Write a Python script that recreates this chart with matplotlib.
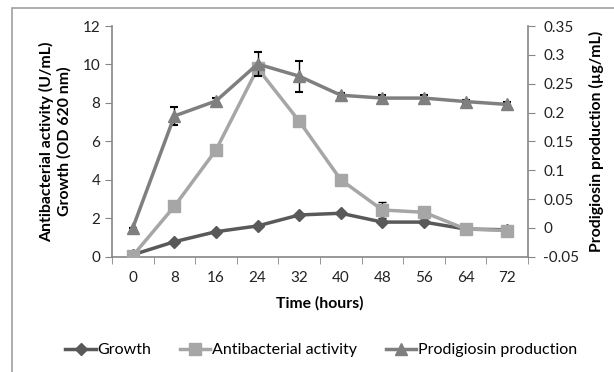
import matplotlib.pyplot as plt
from matplotlib.patches import Rectangle

# time points (categorical axis)
horas = ['0', '8', '16', '24', '32', '40', '48', '56', '64', '72']
crecimiento = [0.1, 0.78, 1.3, 1.6, 2.17, 2.26, 1.8, 1.8, 1.44, 1.4]
antibacteriana = [0.05, 2.62, 5.55, 9.8, 7.05, 4.0, 2.43, 2.31, 1.44, 1.36]
antibacteriana_err = [0, 0, 0, 0, 0, 0, 0.4, 0, 0, 0]
prodigiosina = [0.0, 0.194, 0.22, 0.284, 0.263, 0.23, 0.225, 0.225, 0.219, 0.214]
prodigiosina_err = [0, 0.015, 0.005, 0.021, 0.027, 0.003, 0.006, 0.006, 0.002, 0.004]
ticks_der = [-0.05, 0, 0.05, 0.1, 0.15, 0.2, 0.25, 0.3, 0.35]
labels_der = ['-0.05', '0', '0.05', '0.1', '0.15', '0.2', '0.25', '0.3', '0.35']

plt.rcParams['font.family'] = ['Lato', 'DejaVu Sans']

c_crec = '#595959'
c_anti = '#a6a6a6'
c_prod = '#7f7f7f'
c_eje = '#868686'

fig = plt.figure(figsize=(6.14, 3.72), dpi=100)
ax = fig.add_axes([112/614, 1 - 256.7/372, 416/614, 230.7/372])
x = list(range(len(horas)))

l1, = ax.plot(x, crecimiento, color=c_crec, lw=2.5, marker='D', ms=6, zorder=3)
l2, = ax.plot(x, antibacteriana, color=c_anti, lw=2.5, marker='s', ms=8.5, zorder=4)
ax.errorbar(x[6:7], antibacteriana[6:7], yerr=antibacteriana_err[6:7], fmt='none',
            ecolor='black', elinewidth=1, capsize=3, zorder=2)

ax.set_xlim(-0.5, len(horas) - 0.5)
ax.set_ylim(0, 12)
ax.set_yticks(range(0, 13, 2))
ax.set_xticks(x)
ax.set_xticklabels(horas)
ax.set_xticks([i - 0.5 for i in range(len(horas) + 1)], minor=True)
ax.tick_params(axis='x', which='major', length=0, pad=10, labelsize=11, colors='#222222')
ax.tick_params(axis='x', which='minor', length=5, color=c_eje)
ax.tick_params(axis='y', length=5, color=c_eje, labelsize=11, labelcolor='#222222')
for s in ['top', 'right']:
    ax.spines[s].set_visible(False)
for s in ['left', 'bottom']:
    ax.spines[s].set_color(c_eje)
    ax.spines[s].set_linewidth(1.2)
ax.set_xlabel('Time (hours)', fontweight='bold', fontsize=11.3, labelpad=8)
ax.set_ylabel('Antibacterial activity (U/mL)\nGrowth (OD 620 nm)', fontweight='bold',
              fontsize=11.4, linespacing=1.25, va='center')
ax.yaxis.set_label_coords((55 - 112) / 416, 0.5)

ax2 = ax.twinx()
ax2.errorbar(x, prodigiosina, yerr=prodigiosina_err, fmt='none', ecolor='black',
             elinewidth=1, capsize=3, capthick=1.5, zorder=2)
l3, = ax2.plot(x, prodigiosina, color=c_prod, lw=2.5, marker='^', ms=9, zorder=3)
ax2.set_ylim(-0.05, 0.35)
ax2.set_yticks(ticks_der)
ax2.set_yticklabels(labels_der)
ax2.tick_params(axis='y', length=5, color=c_eje, labelsize=11, labelcolor='#222222', pad=6)
for s in ['top', 'left', 'bottom']:
    ax2.spines[s].set_visible(False)
ax2.spines['right'].set_color(c_eje)
ax2.spines['right'].set_linewidth(1.2)
ax2.set_ylabel('Prodigiosin production (µg/mL)', fontweight='bold', fontsize=11.4, labelpad=7)

fig.legend([l1, l2, l3], ['Growth', 'Antibacterial activity', 'Prodigiosin production'],
           loc='center', bbox_to_anchor=(0.523, 1 - 350/372), ncol=3, frameon=False,
           fontsize=11.5, handlelength=1.9, columnspacing=1.8, handletextpad=0.1)

fig.patches.append(Rectangle((12/614, -0.1), 1.2, 1.1 - 8/372,
                             transform=fig.transFigure, fill=False,
                             edgecolor='#a0a0a0', lw=1.2))

fig.savefig('out.png', dpi=100)
